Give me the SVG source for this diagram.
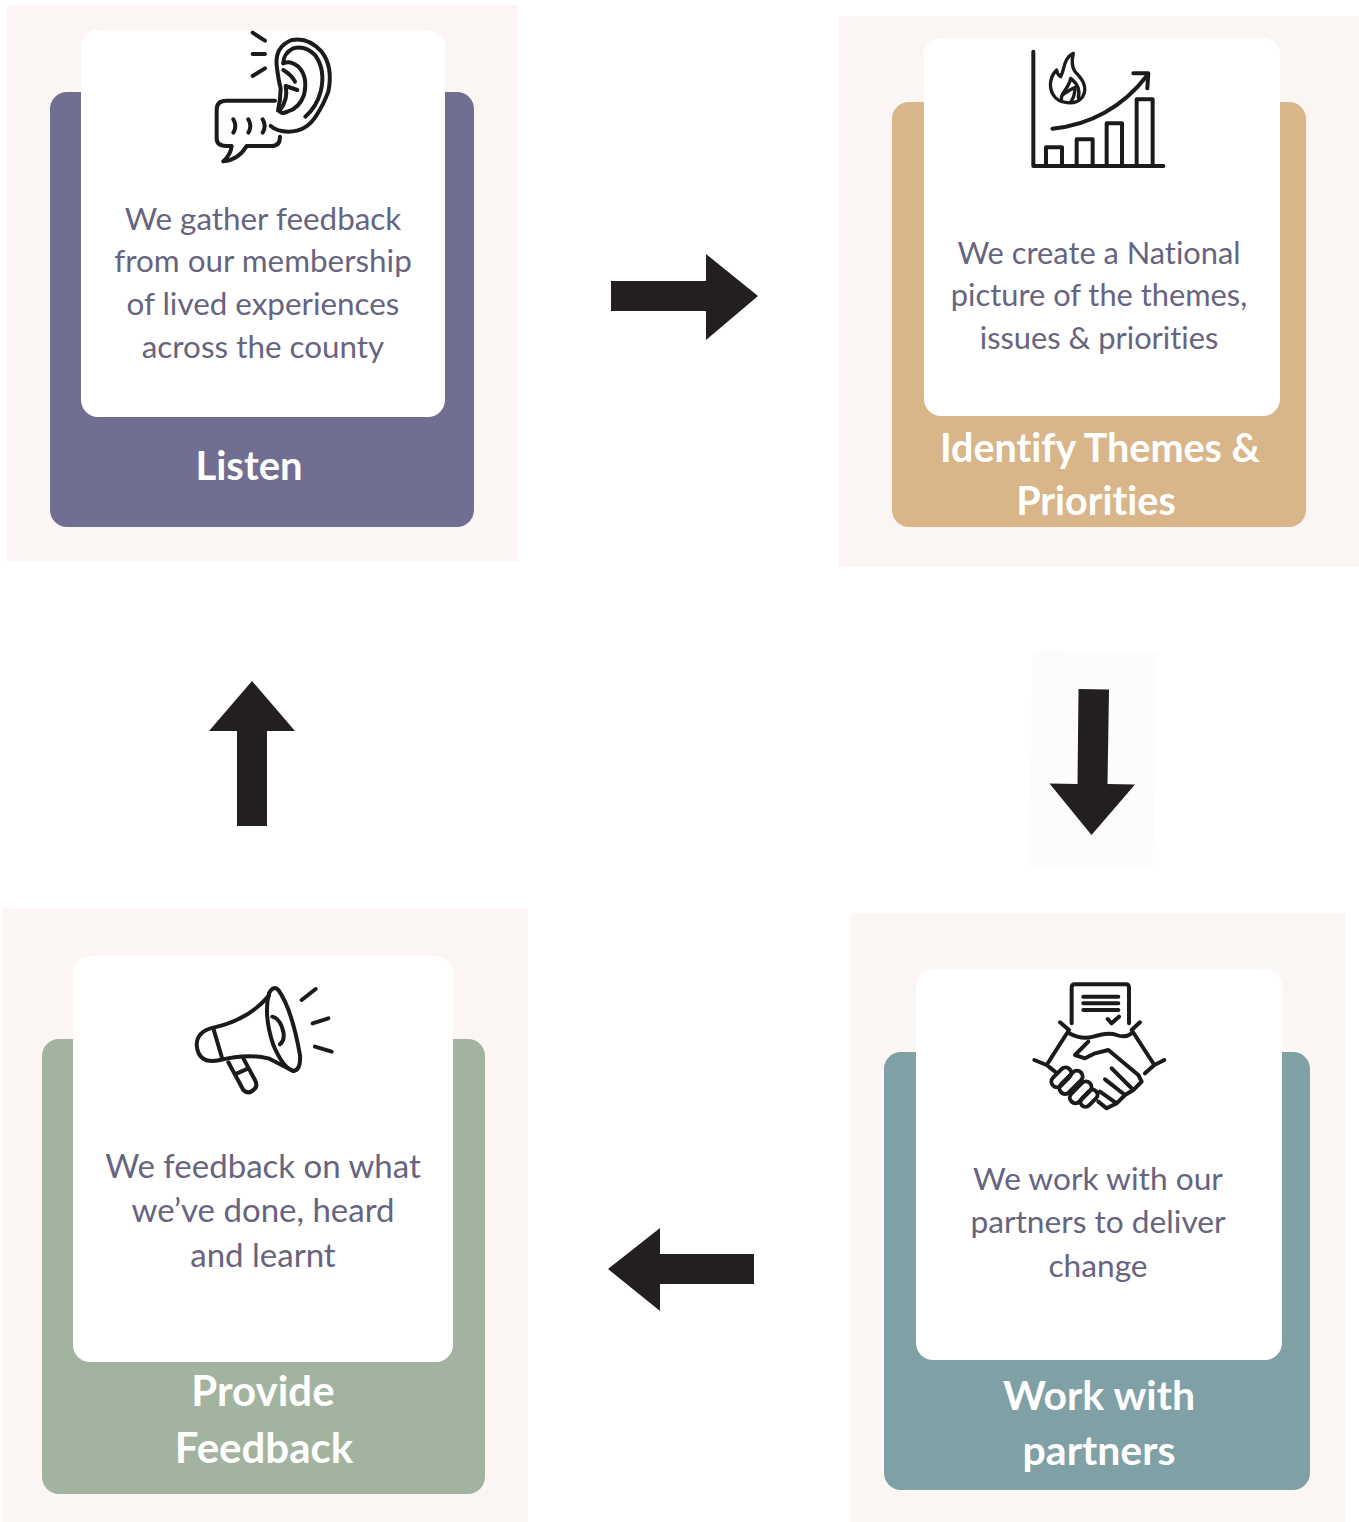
<svg xmlns="http://www.w3.org/2000/svg" width="1359" height="1522" viewBox="0 0 1359 1522">
<style>
.bg{fill:#fbf5f4}
.w{fill:#fff}
text{font-family:Lato,"Liberation Sans",sans-serif;text-anchor:middle;font-variant-ligatures:none}
.b{fill:#66647f;font-size:31.4px}
.t{fill:#fff;font-size:39.5px;font-weight:700}
.i{fill:none;stroke:#1b1a1c;stroke-width:12;stroke-linecap:round;stroke-linejoin:round}
.a{fill:#231f20}
</style>
<rect width="1359" height="1522" fill="#fff"/>
<g id="listen">
<rect class="bg" x="7" y="5" width="511" height="556"/>
<rect x="50" y="92" width="424" height="435" rx="17" fill="#706e91"/>
<rect class="w" x="81" y="30" width="364" height="387" rx="17"/>
<g class="i" transform="translate(200 20) scale(.3333)">
<path d="M158 38L195 62M158 102H195M158 168L195 145"/>
<path d="M225 242H78Q50 242 50 270V355Q50 378 78 378H95Q92 405 70 424Q115 420 140 378H215Q240 378 240 350"/>
<path d="M100 298Q112 318 100 338M145 298Q157 318 145 338M188 298Q200 318 188 338"/>
<path d="M212 318Q232 335 265 335Q320 335 350 285Q370 255 385 215Q400 140 365 95Q325 50 275 60Q225 80 230 135Q235 180 242 205Q242 240 234 272"/>
<path d="M316 290Q350 260 362 215Q378 150 345 105Q315 75 280 85Q250 100 250 130"/>
<path d="M250 130Q270 120 295 140Q325 170 312 225Q298 265 262 275Q240 285 240 270Q265 240 257 198L292 210"/>
<path d="M250 150Q275 165 285 185"/>
</g>
<text class="b"><tspan x="263" y="230">We gather feedback</tspan><tspan x="263" y="272">from our membership</tspan><tspan x="263" y="315">of lived experiences</tspan><tspan x="263" y="358">across the county</tspan></text>
<text class="t" style="font-size:40px" x="249" y="480">Listen</text>
</g>
<g id="identify">
<rect class="bg" x="839" y="16" width="520" height="551"/>
<rect x="892" y="102" width="414" height="425" rx="17" fill="#d8b68a"/>
<rect class="w" x="924" y="38" width="356" height="378" rx="17"/>
<g class="i" transform="translate(1020 40) scale(.3333)">
<path d="M40 35V378H430"/>
<path d="M78 378V322H126V378M170 378V298H218V378M260 378V250H306V378M350 378V178H398V378"/>
<path d="M97 266C210 255 310 200 380 108M340 100L385 100L382 145"/>
</g>
<g class="i" style="stroke-width:10" transform="translate(1040 45) scale(.3333)">
<path d="M100 25C70 40 75 70 62 95C52 88 50 82 50 75C30 95 25 125 40 150C55 175 105 185 128 155C145 125 125 100 105 80C95 65 95 45 100 25Z"/>
<path d="M65 168C58 145 85 135 92 100C105 110 122 130 115 158"/>
<path d="M70 148C82 140 92 132 105 128C105 145 100 160 92 172"/>
</g>
<text class="b" style="font-size:30.8px"><tspan x="1099" y="264">We create a National</tspan><tspan x="1099" y="306">picture of the themes,</tspan><tspan x="1099" y="349">issues &amp; priorities</tspan></text>
<text class="t"><tspan x="1100" y="462">Identify Themes &amp;</tspan><tspan x="1096" y="515">Priorities</tspan></text>
</g>
<g id="partners">
<rect class="bg" x="851" y="913" width="494" height="609"/>
<rect x="884" y="1052" width="426" height="438" rx="17" fill="#7fa1a6"/>
<rect class="w" x="916" y="969" width="366" height="391" rx="17"/>
<g class="i" transform="translate(1025 975) scale(.3333)">
<path d="M140 145V38Q140 28 150 28H302Q312 28 312 38V145"/>
<path d="M175 65H280M175 85H280M175 105H280M248 132L260 145L282 125"/>
<path d="M105 142L132 165L65 270L28 255M65 270L90 290"/>
<path d="M345 142L320 165L388 270L418 255M388 270L360 295"/>
<path d="M132 175Q170 195 205 185Q250 170 275 180Q300 190 320 175"/>
</g>
<g class="i" transform="translate(1045 1040) scale(.3333)">
<path d="M130 5L90 45L120 55L150 40L190 30L280 105L290 125L265 150L200 85M265 150L240 165L180 118M240 165L215 190L165 155M215 190L185 205L160 185"/>
<rect x="14" y="95" width="70" height="34" rx="17" transform="rotate(-45 49 112)"/>
<rect x="36" y="110" width="84" height="34" rx="17" transform="rotate(-45 78 127)"/>
<rect x="68" y="140" width="78" height="34" rx="17" transform="rotate(-45 107 157)"/>
<rect x="102" y="160" width="60" height="30" rx="15" transform="rotate(-45 132 175)"/>
</g>
<text class="b" style="font-size:31.7px"><tspan x="1098" y="1190">We work with our</tspan><tspan x="1098" y="1233">partners to deliver</tspan><tspan x="1098" y="1277">change</tspan></text>
<text class="t" style="font-size:41px"><tspan x="1099" y="1410">Work with</tspan><tspan x="1099" y="1465">partners</tspan></text>
</g>
<g id="feedback">
<rect class="bg" x="3" y="908" width="525" height="614"/>
<rect x="42" y="1039" width="443" height="455" rx="17" fill="#a2b4a0"/>
<rect class="w" x="73" y="956" width="380" height="406" rx="17"/>
<g class="i" transform="translate(185 975) scale(.3333)">
<path d="M350 75L392 42M383 145L430 130M390 215L440 230"/>
<path d="M252 55Q265 30 280 45Q320 100 345 240Q348 285 325 288Q295 280 265 210Q235 120 252 55Z"/>
<path d="M262 125Q285 130 295 170Q300 195 285 208"/>
<path d="M252 62Q190 135 85 158Q35 170 35 210Q40 270 105 255Q185 235 250 250L325 288"/>
<path d="M85 160L112 252M130 262L175 345Q190 360 205 345Q220 335 210 315L175 250M150 298L190 280"/>
</g>
<text class="b" style="font-size:33px"><tspan x="263" y="1178">We feedback on what</tspan><tspan x="263" y="1222">we’ve done, heard</tspan><tspan x="263" y="1267">and learnt</tspan></text>
<text class="t" style="font-size:42px"><tspan x="263" y="1406">Provide</tspan><tspan x="264" y="1463">Feedback</tspan></text>
</g>
<g id="connectors">
<polygon class="a" points="611,281 706,281 706,254 758,296 706,340 706,311 611,311"/>
<polygon points="1033,650 1157,652 1153,868 1028,868" fill="#fcfcfc"/>
<polygon class="a" points="1078.5,689 1109,689.5 1107.5,784 1135,784.5 1091.5,835 1049.5,783.5 1077.5,784"/>
<polygon class="a" points="608,1269 660,1228 660,1254 754,1254 754,1284 660,1284 660,1311"/>
<polygon class="a" points="252,681 295,731 267,731 267,826 237,826 237,731 209,731"/>
</g>
</svg>
